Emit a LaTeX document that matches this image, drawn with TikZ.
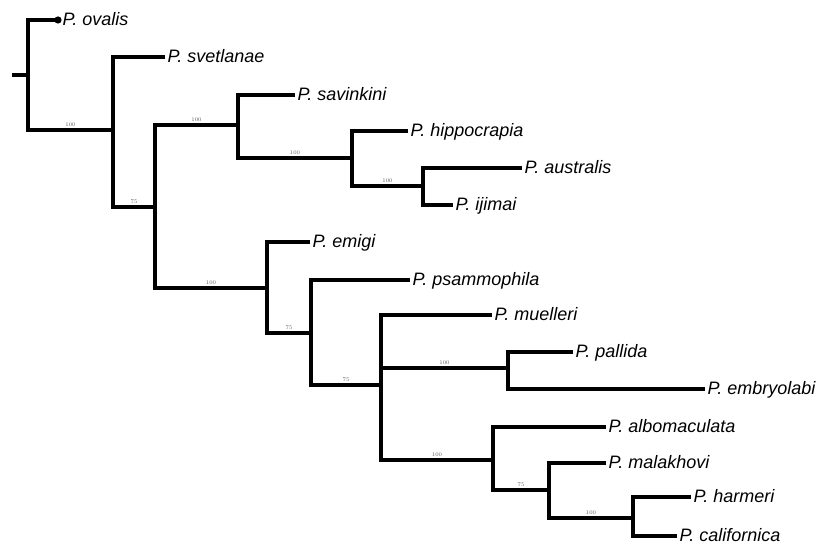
\documentclass[tikz,border=0pt]{standalone}
\usepackage{fontspec}
\setsansfont{Liberation Sans}

\tikzset{
  branch/.style={line width=3.6pt},
  taxon/.style={anchor=west,inner xsep=2.5pt,inner ysep=0pt,text height=11pt,text depth=0pt,
    font=\sffamily\itshape\fontsize{18}{21}\selectfont},
  boot/.style={above,inner sep=1.5pt,text=black!65,font=\fontsize{5.5}{6}\selectfont}
}

\begin{document}
\begin{tikzpicture}[x=1pt,y=-1pt]
  \useasboundingbox (0,0) rectangle (829,545);

  \node[taxon] (ovalis) at (60,20) {P. ovalis};
  \node[taxon] (svet) at (165,57) {P. svetlanae};
  \node[taxon] (savin) at (295,95) {P. savinkini};
  \node[taxon] (hippo) at (408,131) {P. hippocrapia};
  \node[taxon] (austr) at (522,168) {P. australis};
  \node[taxon] (ijim) at (453,205) {P. ijimai};
  \node[taxon] (emigi) at (310,242) {P. emigi};
  \node[taxon] (psamm) at (410,280) {P. psammophila};
  \node[taxon] (muell) at (492,315) {P. muelleri};
  \node[taxon] (pallida) at (573,352) {P. pallida};
  \node[taxon] (embryo) at (705,389) {P. embryolabi};
  \node[taxon] (albo) at (606,427) {P. albomaculata};
  \node[taxon] (malak) at (606,463) {P. malakhovi};
  \node[taxon] (harm) at (691,497) {P. harmeri};
  \node[taxon] (calif) at (677,536) {P. californica};

  \coordinate (stub) at (12,75);
  \coordinate (R) at (28,75);
  \coordinate (A) at (113,130);
  \coordinate (B) at (155,207);
  \coordinate (C) at (238,125);
  \coordinate (D) at (352,158);
  \coordinate (E) at (423,186);
  \coordinate (F) at (267,288);
  \coordinate (G) at (311,333);
  \coordinate (H) at (381,385);
  \coordinate (I) at (508,368);
  \coordinate (J) at (493,460);
  \coordinate (K) at (549,490);
  \coordinate (L) at (633,518);

  \draw[branch] (stub) -- (R);
  \draw[branch] (ovalis.west) -| (R) |- node[boot,pos=0.75] {100} (A);
  \fill ([xshift=-2pt]ovalis.west) circle (3.6pt);
  \draw[branch] (svet.west) -| (A) |- node[boot,pos=0.75] {75} (B);
  \draw[branch] (C) -| node[boot,pos=0.25] {100} (B) |- node[boot,pos=0.75] {100} (F);
  \draw[branch] (savin.west) -| (C) |- node[boot,pos=0.75] {100} (D);
  \draw[branch] (hippo.west) -| (D) |- node[boot,pos=0.75] {100} (E);
  \draw[branch] (austr.west) -| (E) |- (ijim.west);
  \draw[branch] (emigi.west) -| (F) |- node[boot,pos=0.75] {75} (G);
  \draw[branch] (psamm.west) -| (G) |- node[boot,pos=0.75] {75} (H);
  \draw[branch] (muell.west) -| (H) |- node[boot,pos=0.75] {100} (J);
  \draw[branch] (H |- I) -- node[boot] {100} (I);
  \draw[branch] (pallida.west) -| (I) |- (embryo.west);
  \draw[branch] (albo.west) -| (J) |- node[boot,pos=0.75] {75} (K);
  \draw[branch] (malak.west) -| (K) |- node[boot,pos=0.75] {100} (L);
  \draw[branch] (harm.west) -| (L) |- (calif.west);
\end{tikzpicture}
\end{document}
